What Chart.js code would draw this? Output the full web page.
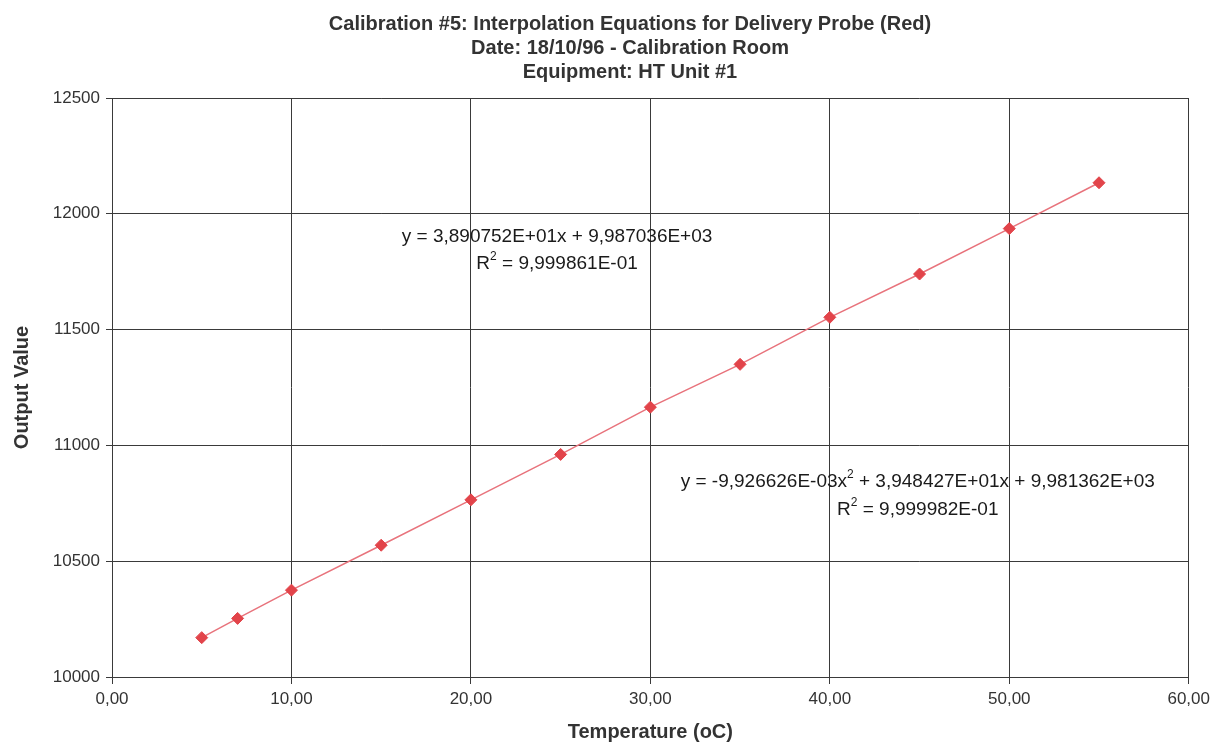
<!DOCTYPE html>
<html>
<head>
<meta charset="utf-8">
<script src="https://cdn.jsdelivr.net/npm/chart.js@4/dist/chart.umd.min.js"></script>
<style>
  html, body { margin: 0; padding: 0; background: #fff; }
  #wrap { width: 1215px; height: 745px; position: relative; }
</style>
</head>
<body>
<div id="wrap"><canvas id="c" width="1215" height="745"></canvas></div>
<script>
// ---- Data ----
const temperatures = [5, 7, 10, 15, 20, 25, 30, 35, 40, 45, 50, 55];
const outputValues = [10170, 10253, 10375, 10569, 10765, 10961, 11165, 11350, 11553, 11740, 11936, 12134];

const titleLines = [
  'Calibration #5: Interpolation Equations for Delivery Probe (Red)',
  'Date: 18/10/96 - Calibration Room',
  'Equipment: HT Unit #1'
];
const xAxisTitle = 'Temperature (oC)';
const yAxisTitle = 'Output Value';

// Equation labels: [before superscript, superscript, after superscript]
const linearEq = ['y = 3,890752E+01x + 9,987036E+03', '', ''];
const linearR2 = ['R', '2', ' = 9,999861E-01'];
const polyEq = ['y = -9,926626E-03x', '2', ' + 3,948427E+01x + 9,981362E+03'];
const polyR2 = ['R', '2', ' = 9,999982E-01'];
// label anchors in data coordinates [x, y]
const linearEqAt = [24.8, 11900];
const linearR2At = [24.8, 11784];
const polyEqAt = [44.9, 10842];
const polyR2At = [44.9, 10722];

const FONT = '"Liberation Sans", Arial, sans-serif';

function drawSupLine(ctx, parts, cx, cy, size) {
  const main = 'normal ' + size + 'px ' + FONT;
  const sup = 'normal ' + Math.round(size * 0.62) + 'px ' + FONT;
  ctx.font = main; const w1 = ctx.measureText(parts[0]).width;
  ctx.font = sup;  const w2 = ctx.measureText(parts[1]).width;
  ctx.font = main; const w3 = ctx.measureText(parts[2]).width;
  let x = cx - (w1 + w2 + w3) / 2;
  ctx.textBaseline = 'middle'; ctx.textAlign = 'left';
  ctx.font = main; ctx.fillText(parts[0], x, cy); x += w1;
  ctx.font = sup; ctx.fillText(parts[1], x, cy - size * 0.38); x += w2;
  ctx.font = main; ctx.fillText(parts[2], x, cy);
}

const annotationPlugin = {
  id: 'annot',
  afterDraw(chart) {
    const ctx = chart.ctx;
    const xs = chart.scales.x, ys = chart.scales.y;
    ctx.save();
    ctx.fillStyle = '#1a1a1a';
    const items = [[linearEq, linearEqAt], [linearR2, linearR2At], [polyEq, polyEqAt], [polyR2, polyR2At]];
    items.forEach(([parts, at]) => {
      drawSupLine(ctx, parts, xs.getPixelForValue(at[0]), ys.getPixelForValue(at[1]), 19);
    });
    // title
    ctx.fillStyle = '#333';
    ctx.font = 'bold 20px ' + FONT;
    ctx.textAlign = 'center';
    ctx.textBaseline = 'middle';
    titleLines.forEach((t, i) => ctx.fillText(t, 630, 24 + i * 24));
    ctx.restore();
  }
};

new Chart(document.getElementById('c'), {
  type: 'scatter',
  data: {
    datasets: [{
      data: temperatures.map((t, i) => ({ x: t, y: outputValues[i] })),
      showLine: true,
      borderColor: '#e8737c',
      borderWidth: 1.5,
      pointStyle: 'rectRot',
      pointRadius: 6,
      pointBackgroundColor: '#e2444a',
      pointBorderColor: '#e2444a',
      pointBorderWidth: 1,
      tension: 0
    }]
  },
  options: {
    responsive: false,
    animation: false,
    devicePixelRatio: 1,
    layout: { padding: { top: 98, right: 25, bottom: 0, left: 0 } },
    plugins: { legend: { display: false }, tooltip: { enabled: false }, title: { display: false } },
    scales: {
      x: {
        type: 'linear', min: 0, max: 60,
        afterFit(s) { s.height = 68; },
        ticks: {
          stepSize: 10, padding: 5, color: '#333',
          font: { family: FONT, size: 17 },
          callback: v => v.toFixed(2).replace('.', ','),
          maxRotation: 0
        },
        grid: { color: '#3a3a3a', lineWidth: 1, tickLength: 7 },
        border: { color: '#3a3a3a', width: 1 },
        title: {
          display: true, text: xAxisTitle, color: '#333',
          font: { family: FONT, size: 20, weight: 'bold' },
          padding: { top: 0, bottom: 1 }
        }
      },
      y: {
        type: 'linear', min: 10000, max: 12500,
        afterFit(s) { s.width = 112; },
        ticks: {
          stepSize: 500, padding: 6, color: '#333',
          font: { family: FONT, size: 17 },
          callback: v => String(v)
        },
        grid: { color: '#3a3a3a', lineWidth: 1, tickLength: 6 },
        border: { color: '#3a3a3a', width: 1 },
        title: {
          display: true, text: yAxisTitle, color: '#333',
          font: { family: FONT, size: 20, weight: 'bold' },
          padding: { top: 10, bottom: 0 }
        }
      }
    }
  },
  plugins: [annotationPlugin]
});
</script>
</body>
</html>
